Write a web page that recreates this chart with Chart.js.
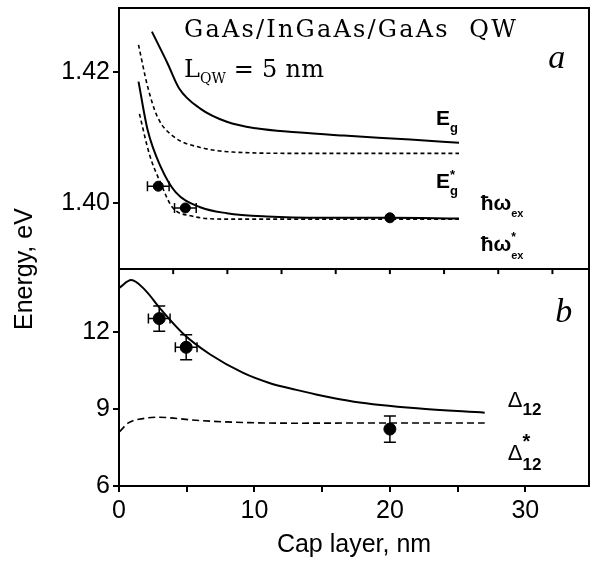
<!DOCTYPE html>
<html>
<head>
    <title>GaAs/InGaAs/GaAs QW energies vs cap layer</title>
    <script src="https://cdnjs.cloudflare.com/ajax/libs/Chart.js/4.4.1/chart.umd.min.js"></script>
    <style>
        body { margin: 0; background: white; }
        canvas { display: block; }
    </style>
</head>
<body>
    <canvas id="chart" width="596" height="562"></canvas>

    <script>
        // Panel a: band gap and exciton energies (eV)
        const egX   = [2.43, 3.58, 4.43, 6.0, 7.96, 10.1, 13.1, 16.6, 21.5, 25.1];
        const egY   = [1.4261, 1.4213, 1.4175, 1.4144, 1.4124, 1.4114, 1.4108, 1.4103, 1.4097, 1.4092];
        const egsX  = [1.44, 2.12, 2.85, 4.06, 6.0, 8.4, 13.1, 19.0, 25.1];
        const egsY  = [1.4241, 1.4177, 1.4131, 1.4101, 1.4085, 1.4078, 1.4076, 1.4076, 1.4076];
        const wexX  = [1.44, 2.12, 3.09, 4.18, 6.0, 7.96, 10.9, 15.0, 20.0, 25.1];
        const wexY  = [1.4185, 1.4111, 1.4055, 1.4017, 1.3994, 1.3985, 1.3980, 1.3978, 1.3978, 1.3977];
        const wexsX = [1.51, 2.24, 3.09, 3.94, 5.28, 7.96, 12.0, 18.0, 25.1];
        const wexsY = [1.4136, 1.4075, 1.4030, 1.3994, 1.3981, 1.3976, 1.3976, 1.3976, 1.3976];
        const expAX    = [2.9, 4.9, 20.0];
        const expAY    = [1.4026, 1.3993, 1.3978];
        const expAXErr = [0.8, 0.8, 0];

        // Panel b: splitting Delta_12 (meV)
        const d12X  = [0.05, 0.9, 1.88, 3.09, 4.8, 6.74, 9.17, 11.1, 13.1, 14.9, 17.35, 22.0, 27.0];
        const d12Y  = [13.74, 14.03, 13.67, 12.89, 11.91, 11.13, 10.41, 10.02, 9.75, 9.53, 9.29, 9.03, 8.86];
        const d12sX = [0.05, 0.66, 1.88, 2.85, 6.0, 9.66, 13.1, 20.0, 27.0];
        const d12sY = [8.12, 8.45, 8.64, 8.68, 8.55, 8.47, 8.45, 8.46, 8.46];
        const expBX    = [2.97, 4.96, 20.0];
        const expBY    = [12.53, 11.41, 8.22];
        const expBXErr = [0.8, 0.8, 0];
        const expBYErr = [0.49, 0.49, 0.51];

        // Axis ticks
        const xTicks = [0, 5, 10, 15, 20, 25, 30];
        const xLabelled = [0, 10, 20, 30];
        const yTopTicks = [1.40, 1.42];
        const yBotTicks = [6, 9, 12];
        const dividerTicks = [4, 8, 12, 16, 20, 24, 28, 32];

        const pts = (xs, ys) => xs.map((x, i) => ({ x: x, y: ys[i] }));

        // Text placed in data coordinates: [panel, x, y, parts]
        const SANS = 'Liberation Sans';
        const SERIF = 'DejaVu Serif';
        const notes = [
            ['a', 4.8, 1.4253, [{ t: 'GaAs/InGaAs/GaAs  QW', f: '24px ' + SERIF, ls: 2.2 }]],
            ['a', 4.8, 1.4192, [{ t: 'L', f: '24px ' + SERIF }, { t: 'QW', f: '14px ' + SERIF, dy: 6 }, { t: ' = 5 nm', f: '24px ' + SERIF, ls: 0.3 }]],
            ['a', 31.7, 1.4206, [{ t: 'a', f: 'italic 34px Liberation Serif' }]],
            ['a', 23.4, 1.4119, [{ t: 'E', f: 'bold 21px ' + SANS }, { t: 'g', f: 'bold 13px ' + SANS, dy: 7 }]],
            ['a', 23.4, 1.4024, [{ t: 'E', f: 'bold 21px ' + SANS }, { t: '*', f: 'bold 13px ' + SANS, dy: -9, keep: true }, { t: 'g', f: 'bold 13px ' + SANS, dy: 7 }]],
            ['a', 26.7, 1.3990, [{ t: 'ħω', f: 'bold 21px ' + SANS }, { t: 'ex', f: 'bold 11px ' + SANS, dy: 7 }]],
            ['a', 26.7, 1.3928, [{ t: 'ħω', f: 'bold 21px ' + SANS }, { t: '*', f: 'bold 12px ' + SANS, dy: -10, keep: true }, { t: 'ex', f: 'bold 11px ' + SANS, dy: 8 }]],
            ['b', 32.2, 12.38, [{ t: 'b', f: 'italic 34px Liberation Serif' }]],
            ['b', 28.7, 9.09, [{ t: 'Δ', f: '22px ' + SANS }, { t: '12', f: 'bold 17px ' + SANS, dy: 8 }]],
            ['b', 28.7, 7.01, [{ t: 'Δ', f: '22px ' + SANS }, { t: '*', f: 'bold 20px ' + SANS, dy: -12, keep: true }, { t: '12', f: 'bold 17px ' + SANS, dy: 10 }]]
        ];

        const curve = (data, yAxisID, dashed) => ({
            data: data,
            yAxisID: yAxisID,
            showLine: true,
            borderColor: '#000',
            borderWidth: dashed ? 1.6 : 2,
            borderDash: dashed ? (yAxisID === 'yTop' ? [4, 3] : [7, 4]) : [],
            pointRadius: 0,
            cubicInterpolationMode: 'monotone',
            fill: false
        });

        const axisCommon = {
            grid: { drawOnChartArea: false, tickLength: 6, color: '#000', lineWidth: 2 },
            border: { color: '#000', width: 2 }
        };

        const noPad = s => { s.paddingTop = 0; s.paddingBottom = 0; s.paddingLeft = 0; s.paddingRight = 0; };

        // frame, divider, error bars and labels
        const decor = {
            id: 'decor',
            afterDatasetsDraw(chart) {
                const ctx = chart.ctx;
                const a = chart.chartArea;
                const sx = chart.scales.x, yt = chart.scales.yTop, yb = chart.scales.yBot;
                ctx.save();
                ctx.strokeStyle = '#000';
                ctx.fillStyle = '#000';
                ctx.lineWidth = 2;
                ctx.strokeRect(a.left, a.top, a.right - a.left, a.bottom - a.top);
                ctx.beginPath();
                ctx.moveTo(a.left, yt.bottom);
                ctx.lineTo(a.right, yt.bottom);
                ctx.stroke();
                dividerTicks.forEach(v => {
                    const px = sx.getPixelForValue(v);
                    ctx.beginPath();
                    ctx.moveTo(px, yt.bottom);
                    ctx.lineTo(px, yt.bottom + 5);
                    ctx.stroke();
                });

                // error bars
                ctx.lineWidth = 1.5;
                const bars = (xs, ys, xe, ye, ys_) => {
                    xs.forEach((x, i) => {
                        const px = sx.getPixelForValue(x), py = ys_.getPixelForValue(ys[i]);
                        if (xe[i]) {
                            const l = sx.getPixelForValue(x - xe[i]), r = sx.getPixelForValue(x + xe[i]);
                            ctx.beginPath();
                            ctx.moveTo(l, py); ctx.lineTo(r, py);
                            ctx.moveTo(l, py - 5); ctx.lineTo(l, py + 5);
                            ctx.moveTo(r, py - 5); ctx.lineTo(r, py + 5);
                            ctx.stroke();
                        }
                        if (ye && ye[i]) {
                            const t = ys_.getPixelForValue(ys[i] + ye[i]), b = ys_.getPixelForValue(ys[i] - ye[i]);
                            ctx.beginPath();
                            ctx.moveTo(px, t); ctx.lineTo(px, b);
                            ctx.moveTo(px - 6, t); ctx.lineTo(px + 6, t);
                            ctx.moveTo(px - 6, b); ctx.lineTo(px + 6, b);
                            ctx.stroke();
                        }
                    });
                };
                bars(expAX, expAY, expAXErr, null, yt);
                bars(expBX, expBY, expBXErr, expBYErr, yb);

                // text notes
                ctx.textBaseline = 'alphabetic';
                ctx.textAlign = 'left';
                notes.forEach(([panel, x, y, parts]) => {
                    let px = sx.getPixelForValue(x);
                    const py = (panel === 'a' ? yt : yb).getPixelForValue(y);
                    parts.forEach(p => {
                        ctx.font = p.f;
                        ctx.letterSpacing = (p.ls || 0) + 'px';
                        ctx.fillText(p.t, px, py + (p.dy || 0));
                        if (!p.keep) px += ctx.measureText(p.t).width;
                    });
                });
                ctx.letterSpacing = '0px';

                // shared y title
                ctx.font = '25px ' + SANS;
                ctx.textAlign = 'center';
                ctx.textBaseline = 'middle';
                ctx.translate(a.left - 94, yt.bottom);
                ctx.rotate(-Math.PI / 2);
                ctx.fillText('Energy, eV', 0, 0);
                ctx.restore();
            }
        };

        new Chart(document.getElementById('chart'), {
            type: 'scatter',
            data: {
                datasets: [
                    curve(pts(egX, egY), 'yTop', false),
                    curve(pts(egsX, egsY), 'yTop', true),
                    curve(pts(wexX, wexY), 'yTop', false),
                    curve(pts(wexsX, wexsY), 'yTop', true),
                    {
                        data: pts(expAX, expAY), yAxisID: 'yTop',
                        pointRadius: 5, backgroundColor: '#000', borderColor: '#000', showLine: false
                    },
                    curve(pts(d12X, d12Y), 'yBot', false),
                    curve(pts(d12sX, d12sY), 'yBot', true),
                    {
                        data: pts(expBX, expBY), yAxisID: 'yBot',
                        pointRadius: 6, backgroundColor: '#000', borderColor: '#000', showLine: false
                    }
                ]
            },
            options: {
                responsive: false,
                animation: false,
                layout: { padding: { top: 8, right: 2, left: 0, bottom: 0 } },
                plugins: { legend: { display: false }, tooltip: { enabled: false } },
                scales: {
                    x: {
                        ...axisCommon,
                        type: 'linear',
                        min: 0,
                        max: 34.7,
                        afterBuildTicks: s => { s.ticks = xTicks.map(v => ({ value: v })); },
                        afterFit: s => { s.height = 76; noPad(s); },
                        ticks: {
                            color: '#000', font: { family: SANS, size: 25 }, padding: 4,
                            autoSkip: false, maxRotation: 0,
                            callback: v => xLabelled.includes(v) ? String(v) : ''
                        },
                        title: {
                            display: true, text: 'Cap layer, nm', color: '#000',
                            font: { family: SANS, size: 25 }, padding: { top: 0, bottom: 2 }
                        }
                    },
                    // first scale in the stack is placed at the bottom
                    yBot: {
                        ...axisCommon,
                        type: 'linear',
                        position: 'left',
                        stack: 'energy',
                        stackWeight: 216,
                        min: 6,
                        max: 14.46,
                        afterBuildTicks: s => { s.ticks = yBotTicks.map(v => ({ value: v })); },
                        afterFit: s => { s.width = 119; noPad(s); },
                        ticks: { color: '#000', font: { family: SANS, size: 25 }, padding: 3, callback: v => String(v) }
                    },
                    yTop: {
                        ...axisCommon,
                        type: 'linear',
                        position: 'left',
                        stack: 'energy',
                        stackWeight: 260,
                        min: 1.39,
                        max: 1.4297,
                        afterBuildTicks: s => { s.ticks = yTopTicks.map(v => ({ value: v })); },
                        afterFit: s => { s.width = 119; noPad(s); },
                        ticks: { color: '#000', font: { family: SANS, size: 25 }, padding: 3, callback: v => v.toFixed(2) }
                    }
                }
            },
            plugins: [decor]
        });
    </script>
</body>
</html>
